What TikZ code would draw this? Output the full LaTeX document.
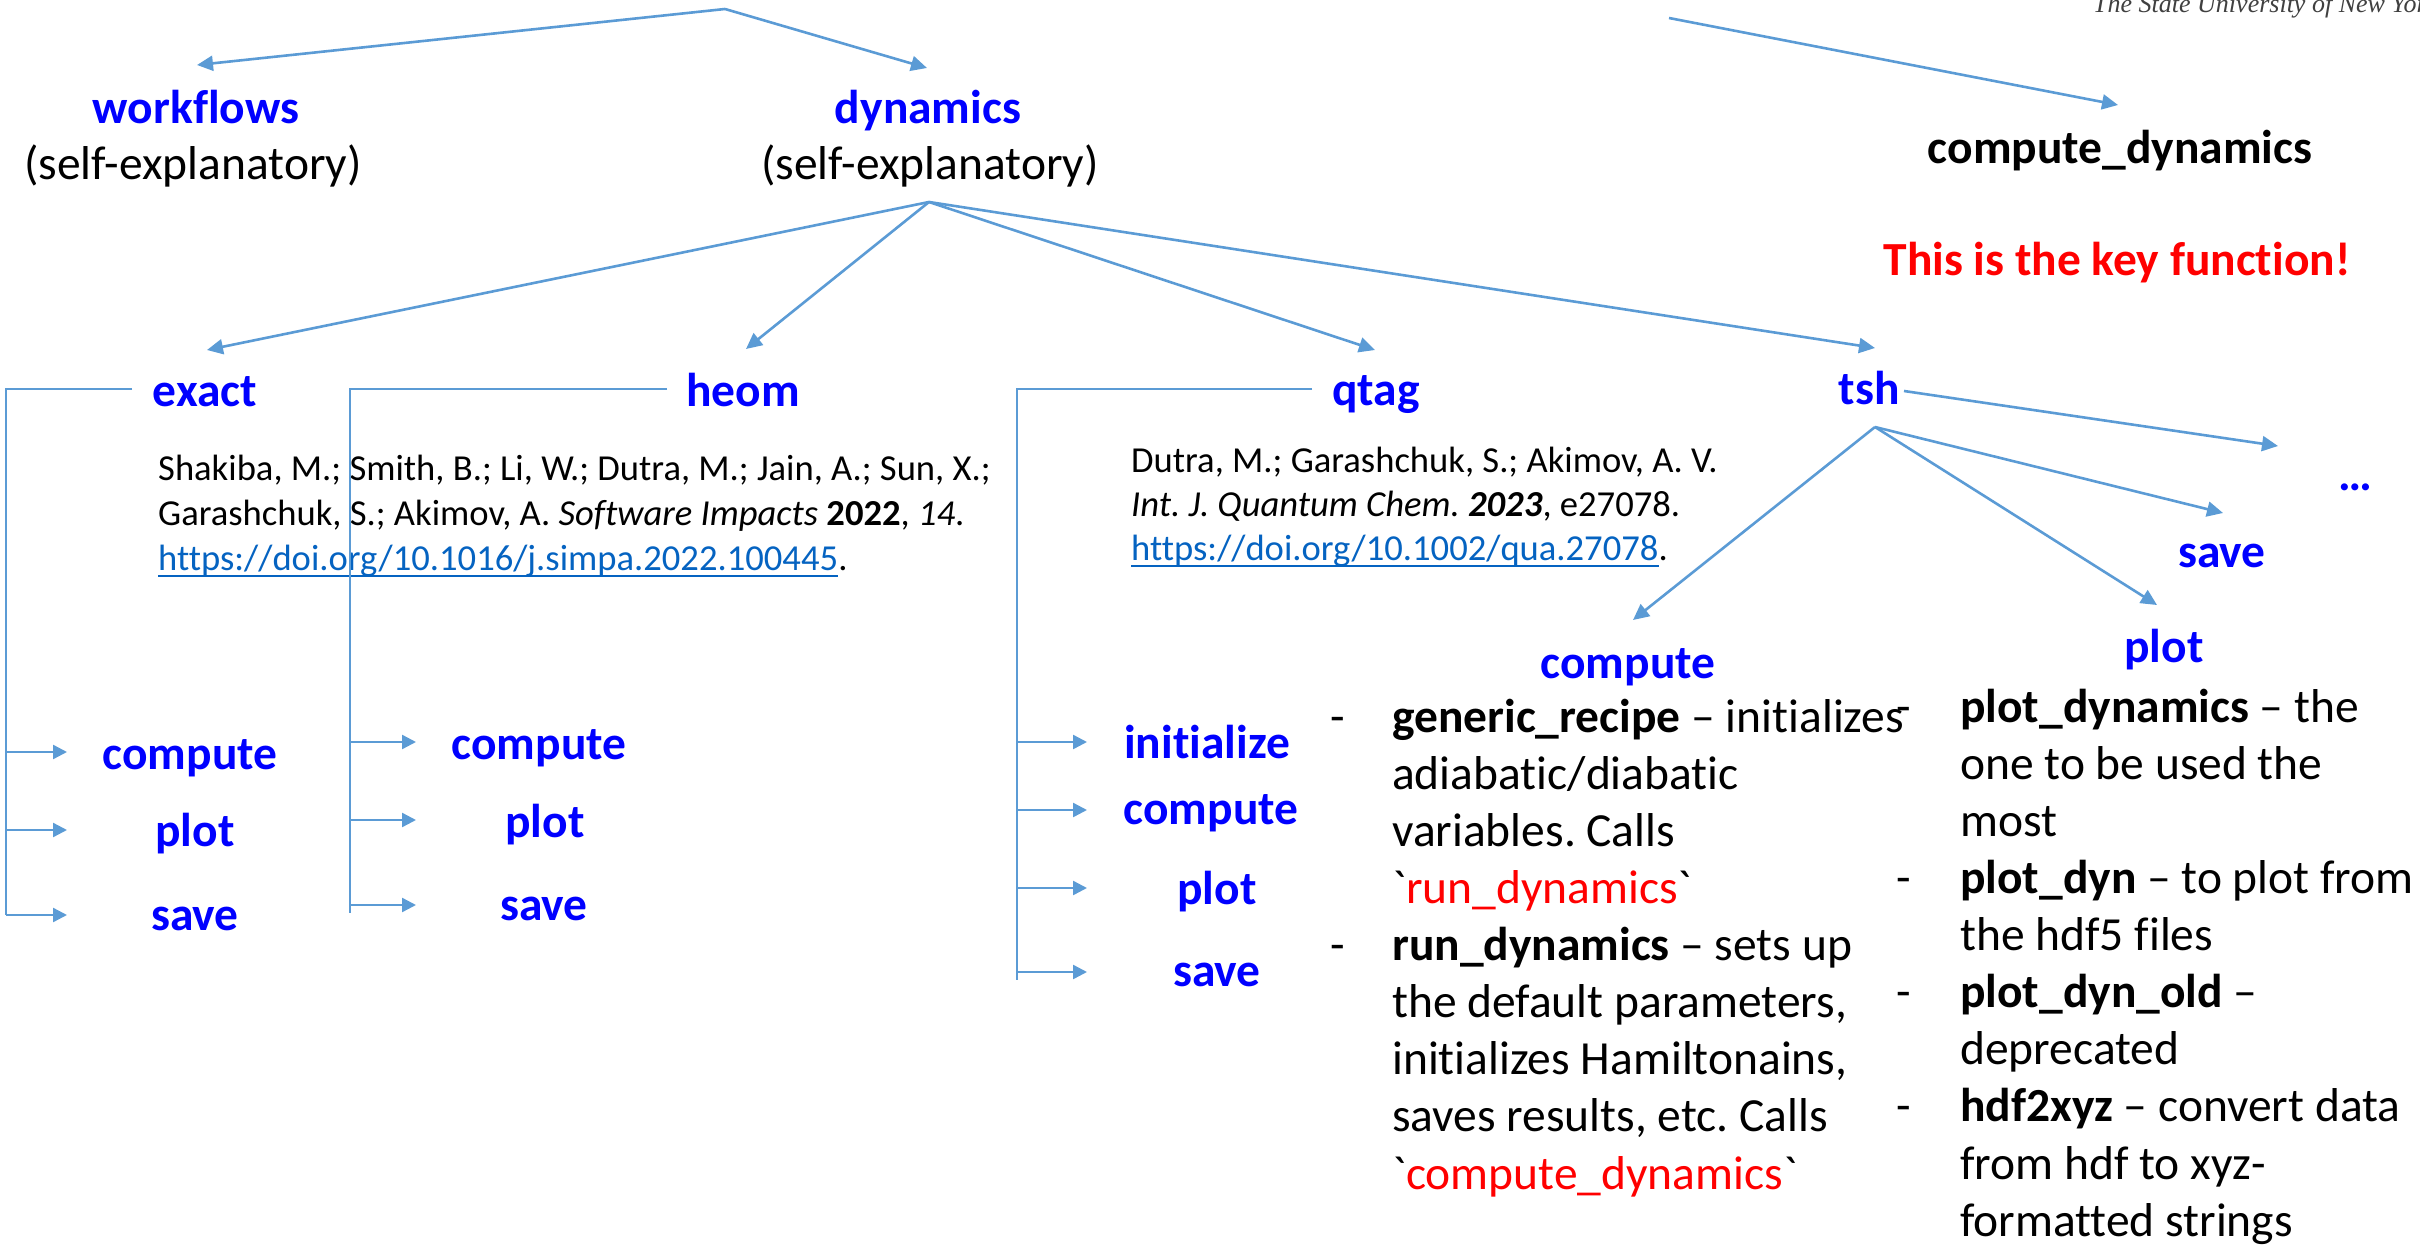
\documentclass[tikz,border=0pt]{standalone}
\usepackage{fontspec}
\setmainfont{Carlito}[Ligatures=CommonOff]
\newfontfamily\rawfont{Carlito}[Ligatures={TeXOff,CommonOff}]
\newfontfamily\logofont{Liberation Serif}
\usetikzlibrary{arrows.meta}
\definecolor{arrblue}{HTML}{5B9BD5}
\definecolor{lblue}{HTML}{0000FF}
\definecolor{linkblue}{HTML}{0563C1}
\definecolor{keyred}{HTML}{FF0000}
\newcommand\bq{{\rawfont\symbol{96}}}
\newcommand\ulink[1]{\setbox0\hbox{#1}\rlap{\rule[-7.1pt]{\wd0}{2.2pt}}\box0}
\frenchspacing
\begin{document}
\begin{tikzpicture}[x=1pt,y=-1pt,
  lab/.style={font=\fontsize{47.5}{57}\selectfont\bfseries, text=lblue, inner sep=0},
  desc/.style={font=\fontsize{47.5}{57}\selectfont, text=black, inner sep=0},
  blk/.style={font=\fontsize{47.5}{57}\selectfont\bfseries, text=black, inner sep=0},
  keyl/.style={font=\fontsize{47.5}{57}\selectfont\bfseries, text=keyred, inner sep=0},
  citebox/.style={font=\fontsize{36.6}{45}\selectfont, align=left, inner sep=0, anchor=north west},
  lst/.style={font=\fontsize{47.5}{57.1}\selectfont, align=left, inner sep=0, anchor=north west},
  logo/.style={font=\logofont\itshape\fontsize{26}{30}\selectfont, text=black!75, inner sep=0, anchor=base west},
  arr/.style={draw=arrblue, line width=2.6pt, -{Triangle[length=16pt,width=15pt]}},
  barr/.style={draw=arrblue, line width=2.4pt, -{Triangle[length=14pt,width=14pt]}},
  brk/.style={draw=arrblue, line width=1.5pt}]
\useasboundingbox (0,0) rectangle (2420,1246);
\clip (0,0) rectangle (2420,1246);

% logo fragment
\node[logo] (logo) at (2093,13) {The State University of New York};

% top level
\node[lab] (wf) at (196,107.5) {workflows};
\node[desc] (wfd) at (193,166) {(self-explanatory)};
\node[lab] (dyn) at (928,111) {dynamics};
\node[desc] (dynd) at (930,166) {(self-explanatory)};
\node[blk] (cd) at (2120,151) {compute\_dynamics};
\node[keyl] (key) at (2117,263) {This is the key function!};

% second level
\node[lab] (exact) at (205,392) {exact};
\node[lab] (heom) at (743,390) {heom};
\node[lab] (qtag) at (1376,395) {qtag};
\node[lab] (tsh) at (1869,388) {tsh};

% tsh children
\node[lab] (more) at (2355,487) {…};
\node[lab] (tsave) at (2222,556) {save};
\node[lab] (tplot) at (2164,650) {plot};
\node[lab] (tcomp) at (1628,667) {compute};

% exact group
\node[lab] (exc) at (190,758) {compute};
\node[lab] (exp) at (195,834) {plot};
\node[lab] (exs) at (195,919) {save};
% heom group
\node[lab] (hec) at (539,748) {compute};
\node[lab] (hep) at (545,825) {plot};
\node[lab] (hes) at (544,909) {save};
% qtag group
\node[lab] (qti) at (1207,742) {initialize};
\node[lab] (qtc) at (1211,813) {compute};
\node[lab] (qtp) at (1217,892) {plot};
\node[lab] (qts) at (1217,975) {save};

% citations
\node[citebox] (cite1) at (158,448.5) {\strut Shakiba, M.; Smith, B.; Li, W.; Dutra, M.; Jain, A.; Sun, X.;\\
Garashchuk, S.; Akimov, A. \textit{Software Impacts} \textbf{2022}, \textit{14}.\\
{\color{linkblue}\ulink{https://doi.org/10.1016/j.simpa.2022.100445}}.};
\node[citebox, font=\fontsize{36.6}{44}\selectfont] (cite2) at (1131,441.2) {\strut Dutra, M.; Garashchuk, S.; Akimov, A. V.\\
\textit{Int. J. Quantum Chem.} \textbf{\textit{2023}}, e27078.\\
{\color{linkblue}\ulink{https://doi.org/10.1002/qua.27078}}.};

% lists
\node[lst] (clist) at (1392,692.1) {\strut\llap{-\hspace{47pt}}\textbf{generic\_recipe} – initializes\\
adiabatic/diabatic\\
variables. Calls\\
\bq{\color{keyred}run\_dynamics}\bq\\
\llap{-\hspace{47pt}}\textbf{run\_dynamics} – sets up\\
the default parameters,\\
initializes Hamiltonains,\\
saves results, etc. Calls\\
\bq{\color{keyred}compute\_dynamics}\bq};
\node[lst] (plist) at (1960,682.1) {\strut\llap{-\hspace{49pt}}\textbf{plot\_dynamics} – the\\
one to be used the\\
most\\
\llap{-\hspace{49pt}}\textbf{plot\_dyn} – to plot from\\
the hdf5 files\\
\llap{-\hspace{49pt}}\textbf{plot\_dyn\_old} –\\
deprecated\\
\llap{-\hspace{49pt}}\textbf{hdf2xyz} – convert data\\
from hdf to xyz-\\
formatted strings};

% connector points
\coordinate (top) at (725,9);
\coordinate (wfin) at (197,65);
\coordinate (dynin) at (927,68);
\coordinate (cdfrom) at (1669,18);
\coordinate (cdin) at (2118,105);
\coordinate (dynout) at (929,202);
\coordinate (exin) at (207,350);
\coordinate (hein) at (746,349);
\coordinate (qtin) at (1375,350);
\coordinate (tshin) at (1875,348);
\coordinate (tshout) at (1875,427);
\coordinate (tshside) at (1904,391);
\coordinate (tcompin) at (1633,620);
\coordinate (tplotin) at (2157,605);
\coordinate (tsavein) at (2223,513);
\coordinate (morein) at (2278,446);

\draw[arr] (top) -- (wfin);
\draw[arr] (top) -- (dynin);
\draw[arr] (cdfrom) -- (cdin);
\draw[arr] (dynout) -- (exin);
\draw[arr] (dynout) -- (hein);
\draw[arr] (dynout) -- (qtin);
\draw[arr] (dynout) -- (tshin);
\draw[arr] (tshout) -- (tcompin);
\draw[arr] (tshout) -- (tplotin);
\draw[arr] (tshout) -- (tsavein);
\draw[arr] (tshside) -- (morein);

% brackets
\coordinate (exh) at (132,389);
\coordinate (exk) at (6,389);
\coordinate (exb) at (6,915);
\draw[brk] (exh) -- (exk) -- (exb);
\coordinate (heh) at (667,389);
\coordinate (hek) at (350,389);
\coordinate (heb) at (350,913);
\draw[brk] (heh) -- (hek) -- (heb);
\coordinate (qth) at (1312,389);
\coordinate (qtk) at (1017,389);
\coordinate (qtb) at (1017,980);
\draw[brk] (qth) -- (qtk) -- (qtb);

\foreach \yy/\nn in {752/1,830/2,915/3}{
  \coordinate (ea\nn) at (6,\yy);
  \coordinate (eb\nn) at (67,\yy);
  \draw[barr] (ea\nn) -- (eb\nn);
}
\foreach \yy/\nn in {742/1,820/2,905/3}{
  \coordinate (ha\nn) at (350,\yy);
  \coordinate (hb\nn) at (416,\yy);
  \draw[barr] (ha\nn) -- (hb\nn);
}
\foreach \yy/\nn in {742/1,810/2,888/3,972/4}{
  \coordinate (qa\nn) at (1017,\yy);
  \coordinate (qb\nn) at (1087,\yy);
  \draw[barr] (qa\nn) -- (qb\nn);
}
\end{tikzpicture}
\end{document}
